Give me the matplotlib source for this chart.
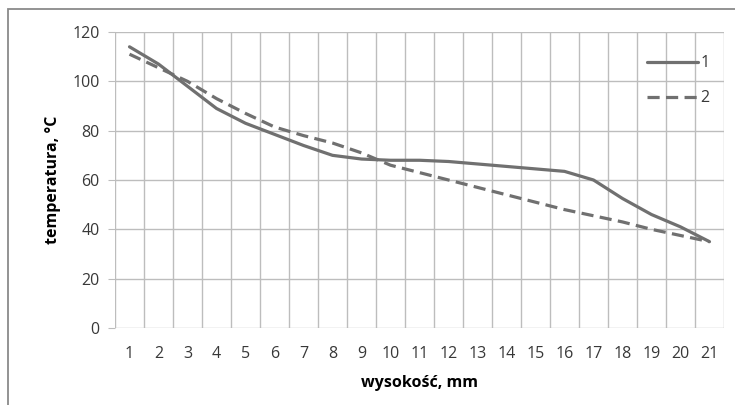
import numpy as np
import matplotlib.pyplot as plt
import matplotlib.patches as mpatches

# Data
heights = list(range(1, 22))
temp_1 = [114, 107, 98, 89, 83, 78.5, 74, 70, 68.5, 68, 68, 67.5, 66.5, 65.5, 64.5, 63.5, 60, 52.5, 46, 41, 35]
temp_2 = [111, 105.5, 100, 93, 87, 81.5, 78, 75, 71, 66, 63, 60, 57, 54, 51, 48, 45.5, 43, 40, 37.5, 35]
y_ticks = [0, 20, 40, 60, 80, 100, 120]

plt.rcParams['font.family'] = ['Open Sans', 'DejaVu Sans']

fig = plt.figure(figsize=(7.35, 4.05), dpi=100)
ax = fig.add_axes([115 / 735, 1 - 328 / 405, 609 / 735, 296 / 405])

line_color = '#707070'
grid_color = '#bdbdbd'

ax.plot(heights, temp_1, color=line_color, lw=2.3, label='1', solid_capstyle='round')
ax.plot(heights, temp_2, color=line_color, lw=2.3, ls=(0, (3.8, 2.0)), label='2')

# Excel-style category grid: lines between categories
ax.set_xlim(0.5, 21.5)
ax.set_ylim(0, 120)
for b in np.arange(0.5, 22, 1):
    ax.axvline(b, color=grid_color, lw=1, zorder=0)
for t in y_ticks:
    ax.axhline(t, color=grid_color, lw=1, zorder=0)

ax.set_xticks(heights)
ax.set_xticklabels([str(h) for h in heights])
ax.set_yticks(y_ticks)
ax.tick_params(axis='x', length=0, pad=13, labelsize=11.5, labelcolor='#383838')
ax.tick_params(axis='y', length=5, color=grid_color, pad=6, labelsize=11.5, labelcolor='#383838')
for s in ax.spines.values():
    s.set_visible(False)

ax.set_xlabel('wysokość, mm', fontweight='bold', fontsize=11.5, labelpad=9)
ax.set_ylabel('temperatura, °C', fontweight='bold', fontsize=11.5, labelpad=8)

leg = ax.legend(loc='upper right', bbox_to_anchor=(1.0, 0.97), frameon=False,
                fontsize=11.5, handlelength=3.2, handletextpad=0.15, labelspacing=1.2)
for txt in leg.get_texts():
    txt.set_color('#383838')

# outer chart border
fig.patches.append(mpatches.Rectangle((8 / 735, -0.05), 1.0, 1 - 9 / 405 + 0.05,
                                      transform=fig.transFigure, fill=False,
                                      edgecolor='#8a8a8a', lw=1.3))

fig.savefig('out.png', dpi=100)
